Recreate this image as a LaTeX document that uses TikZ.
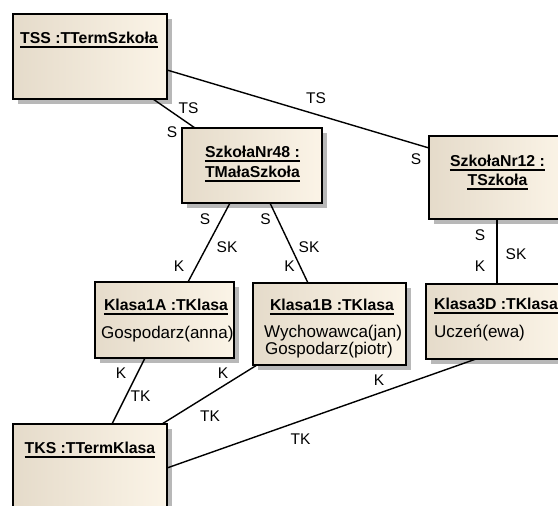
\documentclass[tikz,border=0pt]{standalone}
\usepackage{fontspec}
\setmainfont{Liberation Sans}
\usetikzlibrary{shadows}
\definecolor{boxL}{RGB}{229,219,202}
\definecolor{boxR}{RGB}{251,244,231}
\definecolor{shadowgray}{RGB}{184,184,184}
\begin{document}
\begin{tikzpicture}[x=1pt,y=-1pt,
  objbox/.style={draw=black, line width=1.7pt, anchor=north west,
    inner sep=0pt, outer sep=0pt, left color=boxL, right color=boxR,
    drop shadow={shadow xshift=5pt, shadow yshift=-5pt, fill=shadowgray, opacity=1}},
  title/.style={inner sep=0pt, anchor=base, font=\fontsize{15.8}{18}\selectfont\bfseries},
  body/.style={inner sep=0pt, anchor=base west, font=\fontsize{17}{19}\selectfont},
  lbl/.style={inner sep=0pt, font=\fontsize{15.5}{17}\selectfont},
  link/.style={draw=black, line width=1.4pt},
  uline/.style={draw=black, line width=1.3pt}]
\useasboundingbox (0,0) rectangle (558,506);
\clip (0,0) rectangle (558,506);

% object boxes
\node[objbox, minimum width=154pt, minimum height=85pt]  (tss) at (13,14)  {};
\node[objbox, minimum width=140pt, minimum height=75pt]  (s48) at (182,128) {};
\node[objbox, minimum width=137pt, minimum height=83pt]  (s12) at (429,136) {};
\node[objbox, minimum width=139pt, minimum height=76pt]  (k1a) at (95,282)  {};
\node[objbox, minimum width=153pt, minimum height=82pt]  (k1b) at (253,283) {};
\node[objbox, minimum width=138pt, minimum height=75pt]  (k3d) at (426,284) {};
\node[objbox, minimum width=154pt, minimum height=100pt] (tks) at (13,424)  {};

% object names
\node[title] (tssT) at (89,43)    {TSS :TTermSzkoła};
\node[title] (s48a) at (252.5,157) {SzkołaNr48 :};
\node[title] (s48b) at (252.5,177) {TMałaSzkoła};
\node[title] (s12a) at (497.5,166) {SzkołaNr12 :};
\node[title] (s12b) at (497.5,185) {TSzkoła};
\node[title] (k1aT) at (166,310)  {Klasa1A :TKlasa};
\node[title] (k1bT) at (332,310)  {Klasa1B :TKlasa};
\node[title, anchor=base west] (k3dT) at (434,309) {Klasa3D :TKlasa};
\node[title] (tksT) at (90,453)   {TKS :TTermKlasa};
\foreach \n in {tssT,s48a,s48b,s12a,s12b,k1aT,k1bT,k3dT,tksT}
  \draw[uline] ([yshift=-4pt]\n.base west) -- ([yshift=-4pt]\n.base east);

% slot values
\node[body] (k1aV)  at (101,338) {Gospodarz(anna)};
\node[body] (k1bV1) at (264,337) {Wychowawca(jan)};
\node[body] (k1bV2) at (265,354) {Gospodarz(piotr)};
\node[body] (k3dV)  at (434,337) {Uczeń(ewa)};

% links
\draw[link] ([xshift=140pt]tss.south west) -- ([xshift=13pt]s48.north west);
\draw[link] ([yshift=-56pt]tss.north east) -- ([yshift=-12pt]s12.north west);
\draw[link] ([xshift=48pt]s48.south west)  -- ([xshift=93pt]k1a.north west);
\draw[link] ([xshift=88pt]s48.south west)  -- ([xshift=55pt]k1b.north west);
\draw[link] ([xshift=68pt]s12.south west)  -- ([xshift=71pt]k3d.north west);
\draw[link] ([xshift=50pt]k1a.south west)  -- ([xshift=99pt]tks.north west);
\draw[link] ([xshift=4pt]k1b.south west)   -- ([xshift=-5pt]tks.north east);
\draw[link] ([xshift=50pt]k3d.south west)  -- ([yshift=-44pt]tks.north east);

% link end labels
\node[lbl] (l1) at (188.5,108) {TS};
\node[lbl] (l2) at (172,132)   {S};
\node[lbl] (l3) at (316,98)    {TS};
\node[lbl] (l4) at (416,159)   {S};
\node[lbl] (l5) at (205,219)   {S};
\node[lbl] (l6) at (227,247)   {SK};
\node[lbl] (l7) at (179,266)   {K};
\node[lbl] (l8) at (265.5,219) {S};
\node[lbl] (l9) at (309,247)   {SK};
\node[lbl] (l10) at (289.5,266) {K};
\node[lbl] (l11) at (480,235)  {S};
\node[lbl] (l12) at (516,254)  {SK};
\node[lbl] (l13) at (480,266)  {K};
\node[lbl] (l14) at (121,373)  {K};
\node[lbl] (l15) at (140.5,396.5) {TK};
\node[lbl] (l16) at (223,373)  {K};
\node[lbl] (l17) at (210,416.5) {TK};
\node[lbl] (l18) at (379,380)  {K};
\node[lbl] (l19) at (300.5,439.5) {TK};
\end{tikzpicture}
\end{document}
